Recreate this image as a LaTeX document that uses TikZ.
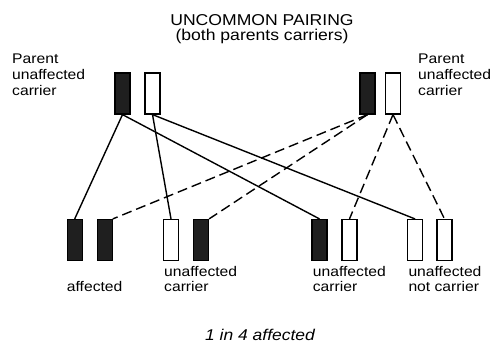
\documentclass[tikz,border=0pt]{standalone}
\usepackage{fontspec}
\setmainfont{Liberation Sans}[FakeStretch=1.12]
\tikzset{
    gene-box/.style = {draw=black, line width=1.2pt, rectangle, inner sep=0pt, minimum width=15pt, minimum height=41pt},
    gene-black/.style = {gene-box, fill=black!88},
    gene-white/.style = {gene-box, fill=white},
    solid-link/.style = {line width=1.4pt},
    dashed-link/.style = {line width=1.4pt, dash pattern=on 10pt off 5pt},
    side-text/.style = {anchor=base west, align=left, inner sep=0pt, font=\fontsize{14}{16}\selectfont},
    child-text/.style = {anchor=base west, align=left, inner sep=0pt, font=\fontsize{14}{15}\selectfont},
}

\begin{document}
\begin{tikzpicture}[x=1pt, y=-1pt]
\useasboundingbox (0,0) rectangle (491,343);
% title
\node[anchor=base, align=center, inner sep=0pt, font=\fontsize{15.7}{14.5}\selectfont] (title) at (262,40) {UNCOMMON PAIRING\\(both parents carriers)};

% parents
\node[gene-black] (lblack) at (122.5,93.5) {};
\node[gene-white] (lwhite) at (152.5,93.5) {};
\node[gene-black] (rblack) at (367.5,93.5) {};
\node[gene-white] (rwhite) at (393,93.5) {};
\node[side-text] (lparent) at (12,95.7) {Parent\\unaffected\\carrier};
\node[side-text] (rparent) at (418,95.7) {Parent\\unaffected\\carrier};

% children
\node[gene-black] (c1) at (74.7,240) {};
\node[gene-black] (c2) at (104.7,240) {};
\node[gene-white] (c3) at (171,240) {};
\node[gene-black] (c4) at (201,240) {};
\node[gene-black] (c5) at (319.5,240) {};
\node[gene-white] (c6) at (349.5,240) {};
\node[gene-white] (c7) at (415,240) {};
\node[gene-white] (c8) at (444.5,240) {};

% inheritance lines
\draw[solid-link] (lblack.south) -- (c1.north);
\draw[solid-link] (lblack.south) -- (c5.north);
\draw[solid-link] (lwhite.south) -- (c3.north);
\draw[solid-link] (lwhite.south) -- (c7.north);
\draw[dashed-link] (rblack.south) -- (c2.north east);
\draw[dashed-link] (rblack.south) -- (c4.north east);
\draw[dashed-link] (rwhite.south) -- (c6.north);
\draw[dashed-link] (rwhite.south) -- (c8.north);

% outcomes
\node[child-text] (affected) at (66.7,291.7) {affected};
\node[child-text] (carrier1) at (164,291.7) {unaffected\\carrier};
\node[child-text] (carrier2) at (312.7,291.7) {unaffected\\carrier};
\node[child-text] (notcarrier) at (408.3,291.7) {unaffected\\not carrier};
\node[anchor=base, inner sep=0pt, font=\fontsize{15.6}{16}\selectfont\itshape] (ratio) at (260,340) {1 in 4 affected};
\end{tikzpicture}
\end{document}
